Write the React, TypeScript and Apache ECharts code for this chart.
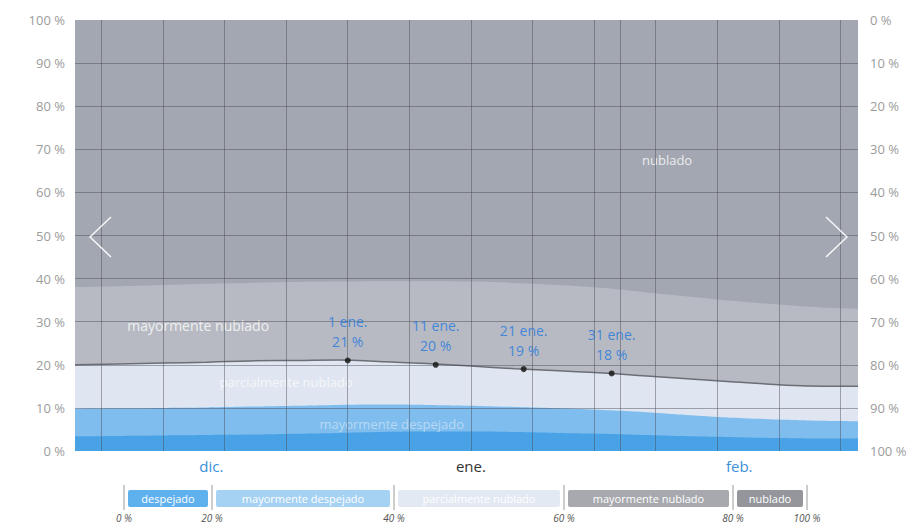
import React, { useEffect, useRef } from "react";
import * as echarts from "echarts";

// ---- data (day index: 0 = 1 dic.) ----
const days = [0, 5, 10, 15, 20, 25, 30, 35, 40, 45, 50, 55, 60, 65, 70, 75, 80, 85, 89];
// cumulative tops of each cloud-cover band, in %
const overcastTop = [100, 100, 100, 100, 100, 100, 100, 100, 100, 100, 100, 100, 100, 100, 100, 100, 100, 100, 100];
const mostlyCloudyTop = [38.0, 38.2, 38.5, 38.8, 39.0, 39.2, 39.3, 39.4, 39.4, 39.3, 39.0, 38.5, 37.8, 36.8, 35.8, 34.8, 34.0, 33.3, 33.0];
const partlyCloudyTop = [20.0, 20.2, 20.4, 20.6, 20.9, 21.0, 21.1, 20.7, 20.3, 19.7, 19.1, 18.6, 18.1, 17.4, 16.7, 16.0, 15.4, 15.0, 15.0];
const mostlyClearTop = [9.8, 9.9, 10.0, 10.1, 10.3, 10.5, 10.7, 10.8, 10.7, 10.5, 10.2, 9.9, 9.5, 9.0, 8.3, 7.7, 7.3, 7.0, 6.9];
const clearTop = [3.4, 3.5, 3.6, 3.7, 3.8, 4.0, 4.2, 4.4, 4.5, 4.5, 4.4, 4.2, 4.0, 3.7, 3.4, 3.2, 3.0, 2.9, 2.9];

const bandNames = ["nublado", "mayormente nublado", "parcialmente nublado", "mayormente despejado", "despejado"];

const monthLabels = ["dic.", "ene.", "feb."];
const monthDays = [15.5, 45, 75.5];

const annotationNames = ["1 ene.", "11 ene.", "21 ene.", "31 ene."];
const annotationDays = [31, 41, 51, 61];
const annotationValues = [21, 20, 19, 18];

const gridDays = [3, 10, 17, 24, 31, 38, 45, 52, 59, 62, 66, 73, 80, 87];
const gridValues = [10, 20, 30, 40, 50, 60, 70, 80, 90];

const legendNames = ["despejado", "mayormente despejado", "parcialmente nublado", "mayormente nublado", "nublado"];
const legendTickLabels = ["0 %", "20 %", "40 %", "60 %", "80 %", "100 %"];

// ---- styles / layout ----
const areaColors = ["#a3a7b1", "#b7bac2", "#dfe6f1", "#7fbdee", "#49a2e6"];
const legendColors = ["#5fb1ee", "#a5d1f3", "#e3e9f2", "#a8a9ae", "#95969c"];
const legendTickX = [124, 212, 394, 564, 733, 807];
const LEGEND_TOP = 490;
const bandLabelPos = [
  [67.3, 67.5],
  [14, 29.2],
  [24, 16],
  [36, 6.3],
];
const bandLabelColors = ["#ffffff", "#ffffff", "rgba(255,255,255,0.85)", "rgba(255,255,255,0.55)"];
const FONT = "'Open Sans', 'Noto Sans', sans-serif";

function pairs(vals: number[]) {
  return days.map((d, i) => [d, vals[i]]);
}

function buildOption() {
  const tops = [overcastTop, mostlyCloudyTop, partlyCloudyTop, mostlyClearTop, clearTop];
  const areaSeries = tops.map((vals, i) => ({
    name: bandNames[i],
    type: "line",
    data: pairs(vals),
    smooth: true,
    symbol: "none",
    silent: true,
    lineStyle: i === 2 ? { color: "#6c6e75", width: 1.5 } : { width: 0 },
    areaStyle: { color: areaColors[i], opacity: 1 },
    z: 2,
  }));

  const gridSeries = {
    name: "grid",
    type: "line",
    data: [],
    silent: true,
    z: 3,
    markLine: {
      silent: true,
      symbol: "none",
      animation: false,
      label: { show: false },
      lineStyle: { color: "rgba(70,72,82,0.45)", width: 1, type: "solid" },
      data: [
        ...gridValues.map((v) => ({ yAxis: v })),
        ...gridDays.map((d) => ({ xAxis: d })),
      ],
    },
  };

  const bandLabelSeries = {
    name: "bandLabels",
    type: "scatter",
    silent: true,
    symbolSize: 0,
    z: 4,
    data: bandLabelPos.map((p, i) => ({
      name: bandNames[i],
      value: p,
      label: {
        show: true,
        position: "inside",
        formatter: "{b}",
        color: bandLabelColors[i],
        fontSize: i === 1 ? 14 : 13,
        fontFamily: FONT,
      },
    })),
  };

  const annotationSeries = {
    name: "annotations",
    type: "scatter",
    silent: true,
    symbolSize: 6,
    itemStyle: { color: "#111" },
    z: 5,
    data: annotationNames.map((n, i) => ({ name: n, value: [annotationDays[i], annotationValues[i]] })),
    label: {
      show: true,
      position: "top",
      distance: 6,
      formatter: (p: any) => `${p.name}\n${p.value[1]} %`,
      color: "#1f78de",
      fontSize: 14,
      lineHeight: 20,
      fontFamily: FONT,
      align: "center",
    },
  };

  // legend graphics
  const legendEls: any[] = [];
  legendTickX.forEach((x, i) => {
    legendEls.push({
      type: "line",
      shape: { x1: x, y1: LEGEND_TOP - 5, x2: x, y2: LEGEND_TOP + 20 },
      style: { stroke: "#9a9a9a", lineWidth: 1 },
    });
    legendEls.push({
      type: "text",
      x,
      y: LEGEND_TOP + 28,
      style: {
        text: legendTickLabels[i],
        fill: "#555",
        font: `italic 10px ${FONT}`,
        align: "center",
        verticalAlign: "middle",
      },
    });
  });
  legendNames.forEach((n, i) => {
    const x0 = legendTickX[i] + 4;
    const x1 = legendTickX[i + 1] - 4;
    legendEls.push({
      type: "rect",
      shape: { x: x0, y: LEGEND_TOP, width: x1 - x0, height: 17, r: 2 },
      style: { fill: legendColors[i] },
    });
    legendEls.push({
      type: "text",
      x: (x0 + x1) / 2,
      y: LEGEND_TOP + 8.5,
      style: {
        text: n,
        fill: "#ffffff",
        font: `11px ${FONT}`,
        align: "center",
        verticalAlign: "middle",
      },
    });
  });

  const chevrons = [
    {
      type: "polyline",
      shape: { points: [[111, 217], [90, 237], [111, 257]] },
      style: { stroke: "rgba(255,255,255,0.9)", lineWidth: 1.5, fill: null },
      z: 10,
    },
    {
      type: "polyline",
      shape: { points: [[826, 217], [847, 237], [826, 257]] },
      style: { stroke: "rgba(255,255,255,0.9)", lineWidth: 1.5, fill: null },
      z: 10,
    },
  ];

  return {
    animation: false,
    backgroundColor: "#ffffff",
    grid: { left: 75, right: 63, top: 20, bottom: 80, containLabel: false },
    xAxis: {
      type: "value",
      min: 0,
      max: 89,
      interval: 0.5,
      axisLine: { show: false },
      axisTick: { show: false },
      splitLine: { show: false },
      axisLabel: {
        show: true,
        margin: 7,
        formatter: (v: number) => {
          const idx = monthDays.indexOf(v);
          if (idx < 0) return "";
          return `{${idx === 1 ? "cur" : "m"}|${monthLabels[idx]}}`;
        },
        rich: {
          m: { color: "#3d8fd6", fontSize: 15, fontFamily: FONT },
          cur: { color: "#333333", fontSize: 15, fontFamily: FONT },
        },
      },
    },
    yAxis: [
      {
        type: "value",
        min: 0,
        max: 100,
        interval: 10,
        position: "left",
        axisLine: { show: false },
        axisTick: { show: false },
        splitLine: { show: false },
        axisLabel: { formatter: "{value} %", color: "#9c9c9c", fontSize: 13, margin: 10, fontFamily: FONT },
      },
      {
        type: "value",
        min: 0,
        max: 100,
        interval: 10,
        inverse: true,
        position: "right",
        axisLine: { show: false },
        axisTick: { show: false },
        splitLine: { show: false },
        axisLabel: { formatter: "{value} %", color: "#9c9c9c", fontSize: 13, margin: 12, fontFamily: FONT },
      },
    ],
    series: [...areaSeries, gridSeries, bandLabelSeries, annotationSeries],
    graphic: [...legendEls, ...chevrons],
  };
}

export default function App() {
  const ref = useRef<HTMLDivElement>(null);
  useEffect(() => {
    document.body.style.margin = "0";
    const chart = echarts.init(ref.current as HTMLDivElement, null, { renderer: "svg" });
    chart.setOption(buildOption() as any);
    return () => chart.dispose();
  }, []);
  return <div ref={ref} style={{ width: 921, height: 531 }} />;
}
